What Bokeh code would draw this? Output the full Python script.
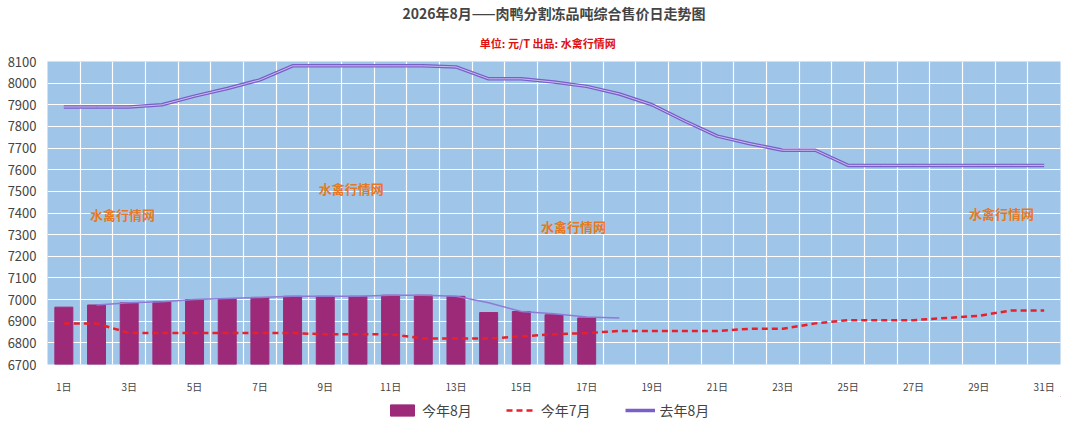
from bokeh.plotting import figure
from bokeh.layouts import column
from bokeh.models import FixedTicker, Legend, LegendItem, Title, Label
from bokeh.embed import file_html
from bokeh.resources import INLINE

days = list(range(1, 32))
day_labels = {d: f"{d}日" for d in days}
this_aug = [6965, 6975, 6985, 6990, 7000, 7005, 7010, 7015, 7015, 7015, 7020, 7020, 7015, 6940, 6945, 6930, 6915]
this_aug_trace_x = list(range(2, 19))
this_aug_trace = [6975, 6985, 6990, 7000, 7005, 7010, 7015, 7015, 7015, 7020, 7020, 7015, 6985, 6945, 6935, 6920, 6915]
july = [6890, 6890, 6845, 6845, 6845, 6845, 6845, 6845, 6840, 6840, 6840, 6820, 6820, 6820, 6830, 6840,
        6845, 6855, 6855, 6855, 6855, 6865, 6865, 6890, 6905, 6905, 6905, 6915, 6925, 6950, 6950]
last_aug = [7890, 7890, 7890, 7900, 7940, 7975, 8015, 8080, 8080, 8080, 8080, 8080, 8075, 8020, 8020, 8005,
            7985, 7950, 7900, 7825, 7755, 7720, 7690, 7690, 7620, 7620, 7620, 7620, 7620, 7620, 7620]
y_ticks = list(range(6700, 8101, 100))
series_names = ["今年8月", "今年7月", "去年8月"]

FONT = "Noto Sans CJK SC"
p = figure(frame_width=1013, frame_height=303, x_range=(0.5, 31.5), y_range=(6700, 8100),
           output_backend="svg", toolbar_location=None,
           min_border_left=47, min_border_right=4, min_border_top=8, min_border_bottom=0)
p.background_fill_color = "#9fc5e8"
p.outline_line_color = None

p.add_layout(Title(text="单位: 元/T      出品: 水禽行情网", text_color="#e01010", text_font=FONT,
                   text_font_size="11px", align="center", standoff=21), "above")
p.add_layout(Title(text="2026年8月——肉鸭分割冻品吨综合售价日走势图", text_font=FONT,
                   text_font_size="14px", align="center", standoff=0), "above")

p.vbar(x=days[:17], top=this_aug, bottom=6700, width=0.55, color="#9c2a78")
p.line(this_aug_trace_x, this_aug_trace, color="#8f7ad6", line_width=1.5)
p.line(days, july, color="#e8202a", line_width=2.5, line_dash="6 4")
p.line(days, last_aug, color="#7a5fc8", line_width=3.5)
p.line(days, last_aug, color="#c9bdf0", line_width=1)

p.xaxis.ticker = FixedTicker(ticks=days[::2])
p.xaxis.major_label_overrides = day_labels
p.xaxis.major_label_standoff = 8
p.xgrid.ticker = FixedTicker(ticks=[d + 0.5 for d in range(0, 32)])
p.yaxis.ticker = FixedTicker(ticks=y_ticks)
for ax in (p.xaxis[0], p.yaxis[0]):
    ax.axis_line_color = None
    ax.major_tick_line_color = None
    ax.minor_tick_line_color = None
    ax.major_label_text_font = FONT
p.xaxis.major_label_text_font_size = "10px"
p.yaxis.major_label_text_font_size = "13px"
p.grid.grid_line_color = "white"
p.grid.grid_line_width = 1.2

for x, y in [(1.8, 7350), (8.8, 7470), (15.6, 7295), (28.7, 7355)]:
    p.add_layout(Label(x=x, y=y, text="水禽行情网", text_color="#e87820", text_font=FONT,
                       text_font_size="13px", text_font_style="bold"))

# legend strip (glyphs placed outside the visible range; only the legend shows)
q = figure(width=1064, height=30, x_range=(0, 1), y_range=(0, 1), output_backend="svg",
           toolbar_location=None, min_border=0)
q.axis.visible = False
q.grid.visible = False
q.outline_line_color = None
rb = q.vbar(x=[5], top=[6], bottom=[5], width=0.1, color="#9c2a78")
r7 = q.line(x=[5, 6], y=[5, 5], color="#e8202a", line_width=2.5, line_dash="6 4")
ra = q.line(x=[5, 6], y=[5, 5], color="#7a5fc8", line_width=3.5)
leg = Legend(items=[LegendItem(label=series_names[0], renderers=[rb]),
                    LegendItem(label=series_names[1], renderers=[r7]),
                    LegendItem(label=series_names[2], renderers=[ra])],
             orientation="horizontal", location=(340, 6), label_text_font=FONT,
             label_text_font_size="14px", border_line_color=None, background_fill_alpha=0,
             spacing=34, glyph_width=30, glyph_height=14, padding=0, margin=0)
q.add_layout(leg, "center")

open("out.html", "w").write(file_html(column(p, q, spacing=0), INLINE))
